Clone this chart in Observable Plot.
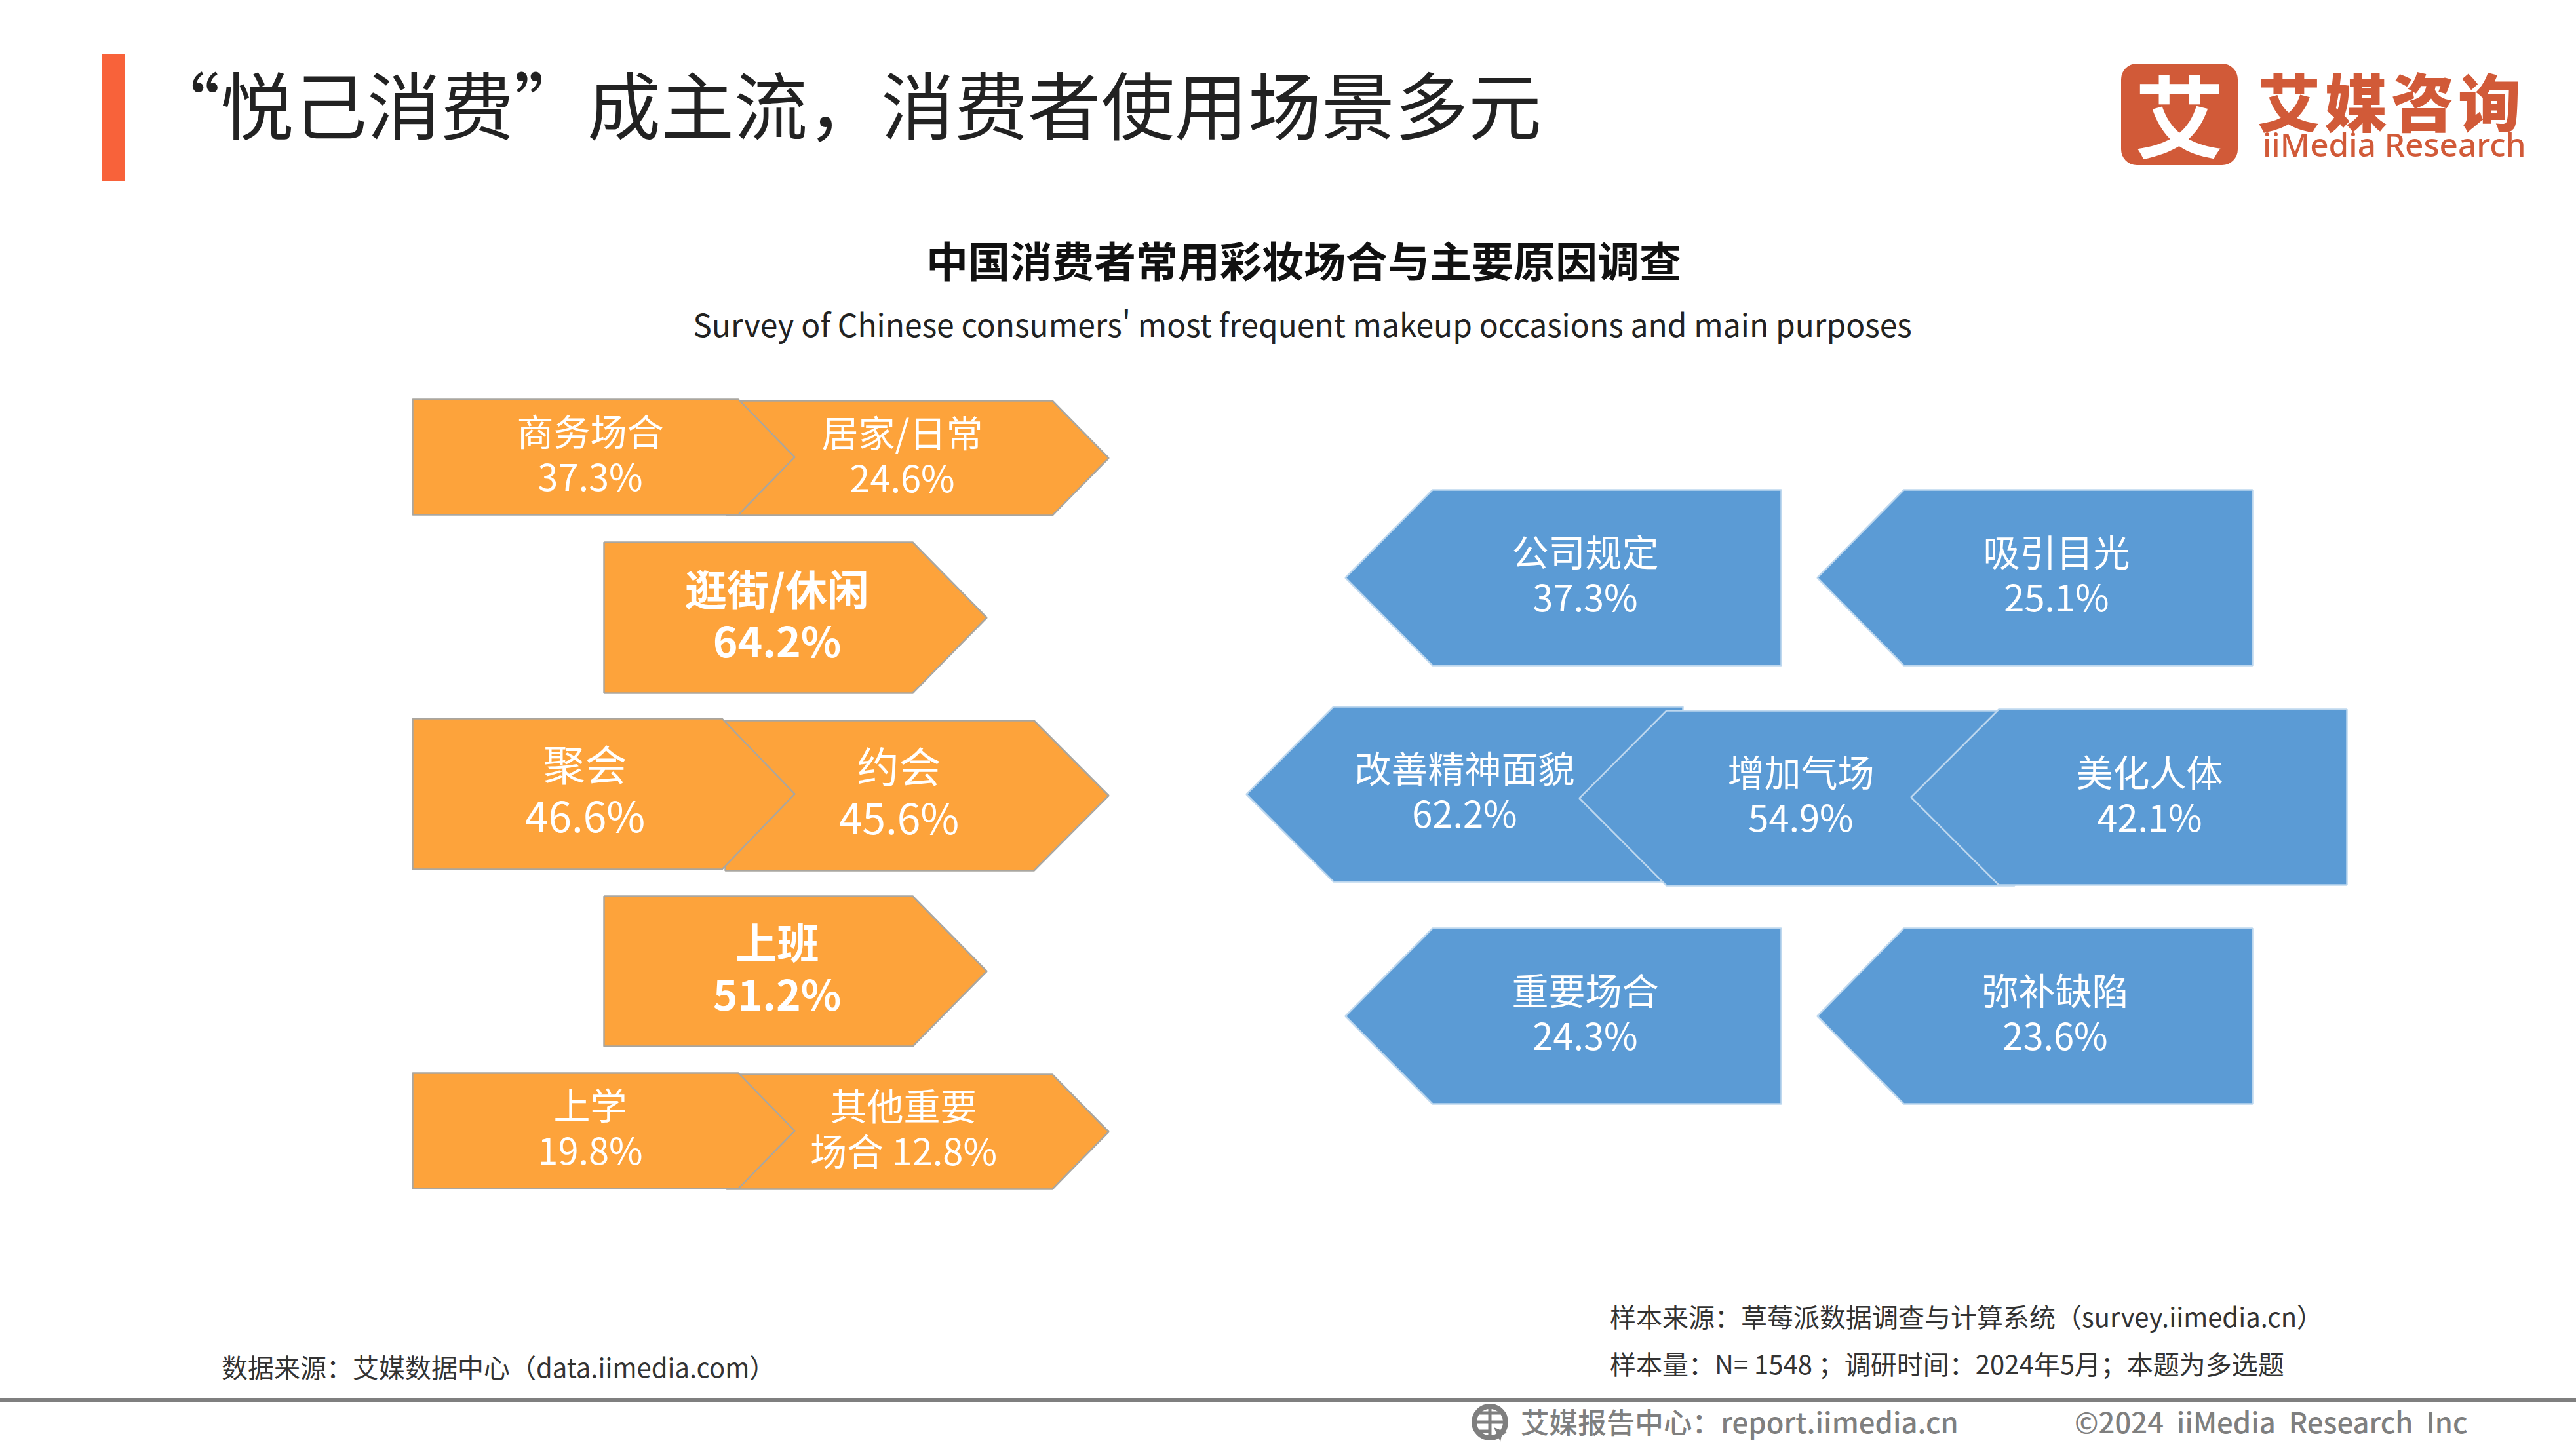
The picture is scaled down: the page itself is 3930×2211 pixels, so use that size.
<!DOCTYPE html>
<html lang="zh">
<head>
<meta charset="utf-8">
<script src="https://cdn.jsdelivr.net/npm/d3@7"></script>
<script src="https://cdn.jsdelivr.net/npm/@observablehq/plot@0.6"></script>
<style>
html,body{margin:0;padding:0;background:#fff;width:3930px;height:2211px;overflow:hidden}
body{position:relative;font-family:"Noto Sans CJK SC","Noto Sans",sans-serif}
.t{position:absolute;white-space:nowrap;line-height:1}
#chart{position:absolute;left:0;top:0}
</style>
</head>
<body>
<div class="t" style="left:155px;top:83px;width:36px;height:193px;background:#F8623A"></div>
<div class="t" id="title" style="left:224px;top:100px;font-size:112px;color:#222">“悦己消费”成主流，消费者使用场景多元</div>

<div class="t" style="left:3236px;top:97px;width:178px;height:155px;border-radius:24px;background:#D15A38"></div>
<div class="t" style="left:3236px;top:97px;width:178px;height:155px;text-align:center;font-size:136px;line-height:150px;font-weight:700;color:#fff">艾</div>
<div class="t" style="left:3444px;top:104px;font-size:96px;font-weight:900;letter-spacing:6px;color:#D15A38">艾媒咨询</div>
<div class="t" style="left:3452px;top:196px;font-size:49.5px;font-weight:500;color:#D15A38;font-family:'Noto Sans'">iiMedia Research</div>

<div class="t" style="left:1989px;top:363px;transform:translateX(-50%);font-size:64px;font-weight:700;color:#111">中国消费者常用彩妆场合与主要原因调查</div>
<div class="t" style="left:1987px;top:469px;transform:translateX(-50%);font-size:48px;color:#222;font-family:'Noto Sans CJK SC'">Survey of Chinese consumers' most frequent makeup occasions and main purposes</div>

<div id="chart"></div>

<div class="t" style="left:338px;top:2065px;font-size:40px;color:#333">数据来源：艾媒数据中心（data.iimedia.com）</div>
<div class="t" style="left:2456px;top:1988px;font-size:40px;color:#333">样本来源：草莓派数据调查与计算系统（survey.iimedia.cn）</div>
<div class="t" style="left:2456px;top:2060px;font-size:40px;color:#333">样本量：N= 1548 ；调研时间：2024年5月；本题为多选题</div>

<div class="t" style="left:0;top:2133px;width:3930px;height:6px;background:#7F7F7F"></div>
<svg class="t" style="left:2243px;top:2142px" width="62" height="62" viewBox="0 0 62 62">
  <circle cx="30" cy="28" r="24" fill="none" stroke="#7F7F7F" stroke-width="8"/>
  <path d="M6 28H54M30 4V52M14 14H46M14 42H30" stroke="#7F7F7F" stroke-width="5" fill="none"/>
  <path d="M36 36L56 44L48 48L46 58Z" fill="#7F7F7F"/>
</svg>
<div class="t" style="left:2320px;top:2147px;font-size:43.6px;font-weight:500;color:#7F7F7F">艾媒报告中心：report.iimedia.cn</div>
<div class="t" style="left:3165px;top:2147px;font-size:43.6px;font-weight:500;color:#7F7F7F;word-spacing:10px">©2024 iiMedia Research Inc</div>

<script>
// ---- Survey values -------------------------------------------------------
const occasionNames = ["居家/日常", "商务场合", "逛街/休闲", "约会", "聚会", "上班", "其他重要", "上学"];
const occasionShares = [24.6, 37.3, 64.2, 45.6, 46.6, 51.2, 12.8, 19.8];
const purposeNames = ["公司规定", "吸引目光", "改善精神面貌", "增加气场", "美化人体", "重要场合", "弥补缺陷"];
const purposeShares = [37.3, 25.1, 62.2, 54.9, 42.1, 24.3, 23.6];

// ---- Diagram layout (where each arrow sits on the page) --------------------
// [back edge, shoulder, tip, top, bottom, label x, label y]
const occasionLayout = [
  [1108, 1605, 1691,  611,  786, 1376,  694],
  [ 629, 1126, 1212,  609,  785,  900,  692],
  [ 921, 1392, 1505,  827, 1057, 1185,  938],
  [1106, 1577, 1691, 1099, 1328, 1371, 1208],
  [ 629, 1101, 1212, 1096, 1326,  892, 1205],
  [ 921, 1392, 1505, 1367, 1596, 1185, 1477],
  [1108, 1605, 1691, 1639, 1814, 1378, 1721],
  [ 629, 1126, 1212, 1637, 1813,  900, 1720]
];
const purposeLayout = [
  [2717, 2185, 2052,  747, 1015, 2418,  876],
  [3436, 2904, 2772,  747, 1015, 3137,  876],
  [2567, 2034, 1901, 1078, 1345, 2234, 1206],
  [3073, 2542, 2409, 1084, 1351, 2747, 1212],
  [3580, 3049, 2915, 1082, 1350, 3279, 1212],
  [2717, 2185, 2052, 1416, 1684, 2418, 1545],
  [3436, 2904, 2772, 1416, 1684, 3135, 1545]
];
// label size class per arrow
const occasionSize = ["s", "s", "b", "m", "m", "b", "s", "s"];
const purposeSize = ["s", "s", "s", "s", "s", "s", "s"];

const pct = v => v.toFixed(1) + "%";
function occasionText(name, share) {
  // the last occasion's label wraps inside the arrow as in the source
  return name === "其他重要" ? name + "\n场合 " + pct(share) : name + "\n" + pct(share);
}
const rows = (names, shares, layout, sizes) => names.map((name, i) => {
  const [back, shoulder, tip, top, bottom, lx, ly] = layout[i];
  return {name, share: shares[i], back, shoulder, tip, top, bottom, lx, ly, size: sizes[i],
          label: occasionText(name, shares[i])};
});
const occasions = rows(occasionNames, occasionShares, occasionLayout, occasionSize);
const purposes = rows(purposeNames, purposeShares, purposeLayout, purposeSize);
const outline = d => {
  const mid = (d.top + d.bottom) / 2;
  return [[d.back, d.top], [d.shoulder, d.top], [d.tip, mid], [d.shoulder, d.bottom], [d.back, d.bottom]]
    .map(([x, y]) => ({name: d.name, x, y}));
};
const font = "Noto Sans CJK SC";
const labels = (data, size, fontSize, lineHeight, fontWeight) =>
  Plot.text(data.filter(d => d.size === size), {
    x: "lx", y: "ly", text: "label", fill: "#fff", fontFamily: font,
    fontSize, lineHeight, fontWeight, lineAnchor: "middle", textAnchor: "middle"
  });

const chart = Plot.plot({
  width: 3930, height: 2211, margin: 0,
  x: {domain: [0, 3930], range: [0, 3930], axis: null},
  y: {domain: [0, 2211], range: [0, 2211], axis: null},
  style: {background: "transparent", fontFamily: font},
  marks: [
    Plot.line(occasions.flatMap(outline), {x: "x", y: "y", z: "name", curve: "linear-closed",
      fill: "#FDA33B", stroke: "#A9A6A0", strokeWidth: 2.5, strokeLinejoin: "miter"}),
    Plot.line(purposes.flatMap(outline), {x: "x", y: "y", z: "name", curve: "linear-closed",
      fill: "#5B9BD5", stroke: "#BDD7EE", strokeWidth: 2.5, strokeLinejoin: "miter"}),
    labels(occasions, "s", 56, 1.22, 400),
    labels(occasions, "m", 64, 1.22, 400),
    labels(occasions, "b", 64, 1.22, 700),
    labels(purposes, "s", 56, 1.22, 400)
  ]
});
document.getElementById("chart").appendChild(chart);
</script>
</body>
</html>
